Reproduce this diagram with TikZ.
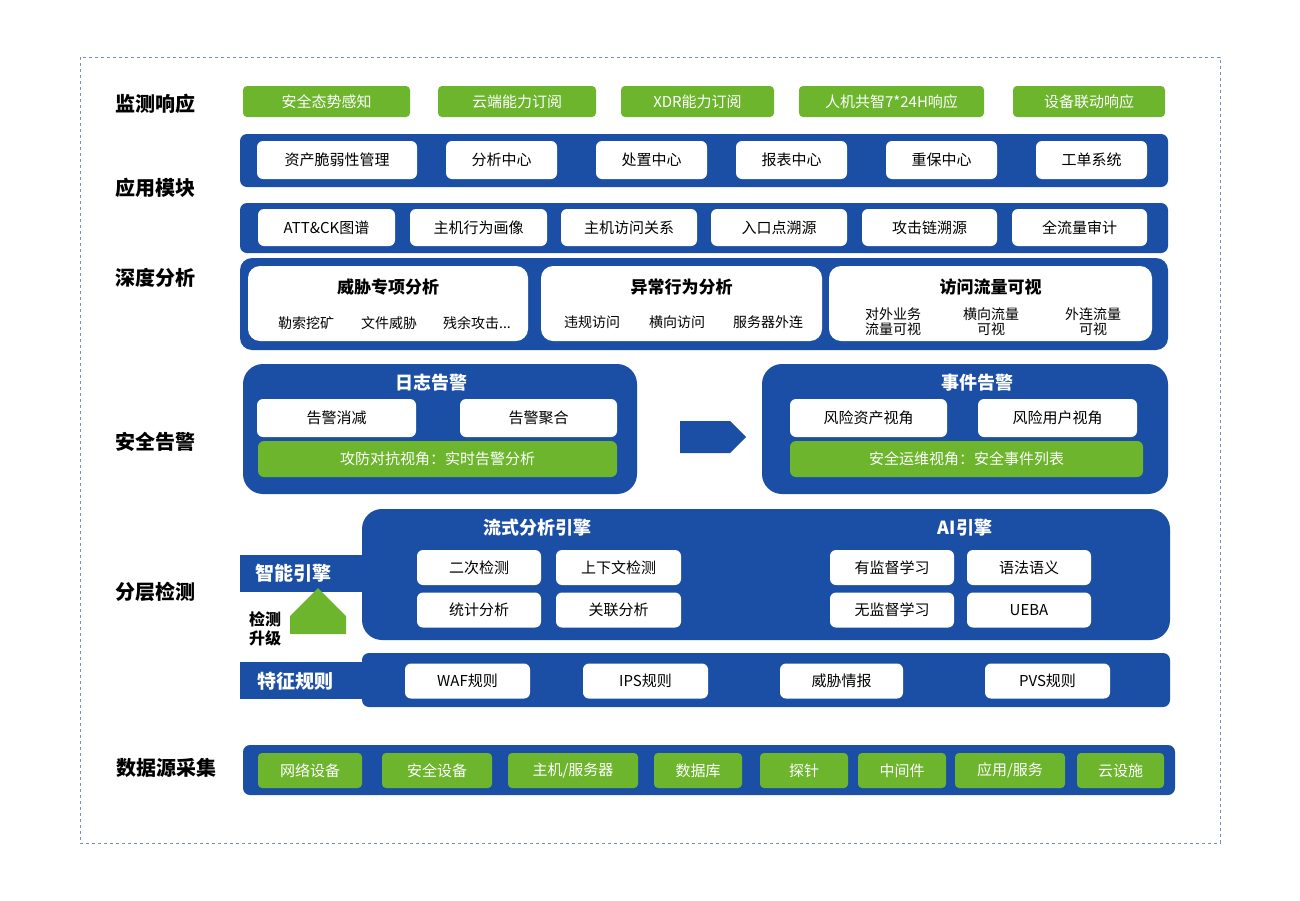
\documentclass[tikz,border=0pt]{standalone}
\usepackage{fontspec}
\setmainfont{Noto Sans CJK SC}
\usetikzlibrary{positioning,shapes.arrows}
\definecolor{bandblue}{HTML}{1B4FA6}
\definecolor{leafgreen}{HTML}{6DB52D}
\definecolor{framegray}{HTML}{7A8FB8}

\begin{document}
\begin{tikzpicture}[x=1pt,y=-1pt,
    band/.style={draw=none, fill=bandblue, rounded corners=7pt, inner sep=0pt},
    panel/.style={draw=none, fill=bandblue, rounded corners=20pt, inner sep=0pt},
    wbox/.style={fill=white, rounded corners=6pt, inner sep=0pt, font=\fontsize{15}{17}\selectfont},
    gbox/.style={fill=leafgreen, text=white, rounded corners=4pt, inner sep=0pt, font=\fontsize{15}{17}\selectfont},
    side/.style={font=\fontsize{20}{22}\selectfont\bfseries},
    head/.style={text=white, font=\fontsize{18}{20}\selectfont\bfseries},
    sub/.style={font=\fontsize{17}{19}\selectfont\bfseries},
    item/.style={font=\fontsize{14}{15}\selectfont, align=center}
]
\useasboundingbox (0,0) rectangle (1300,900);
\draw[framegray, dashed, line width=0.8pt] (80,57) rectangle (1220,843);

% left labels
\node[side] (l1) at (155,104) {监测响应};
\node[side] (l2) at (155,188) {应用模块};
\node[side] (l3) at (155,278) {深度分析};
\node[side] (l4) at (155,442) {安全告警};
\node[side] (l5) at (155,592) {分层检测};
\node[side] (l6) at (166,768) {数据源采集};

% monitoring response
\node[gbox, minimum width=167, minimum height=31] (m1) at (326.5,101.5) {安全态势感知};
\node[gbox, minimum width=158, minimum height=31] (m2) at (517,101.5) {云端能力订阅};
\node[gbox, minimum width=153, minimum height=31] (m3) at (697.5,101.5) {XDR能力订阅};
\node[gbox, minimum width=185, minimum height=31] (m4) at (891.5,101.5) {人机共智7*24H响应};
\node[gbox, minimum width=152, minimum height=31] (m5) at (1089,101.5) {设备联动响应};

% application modules
\node[band, minimum width=928, minimum height=53] (app) at (704,160.5) {};
\node[wbox, minimum width=160, minimum height=38] (a1) at (337,160) {资产脆弱性管理};
\node[wbox, minimum width=111, minimum height=38] (a2) at (501.5,160) {分析中心};
\node[wbox, minimum width=111, minimum height=38] (a3) at (651.5,160) {处置中心};
\node[wbox, minimum width=111, minimum height=38] (a4) at (791.5,160) {报表中心};
\node[wbox, minimum width=111, minimum height=38] (a5) at (941.5,160) {重保中心};
\node[wbox, minimum width=111, minimum height=38] (a6) at (1091.5,160) {工单系统};

% deep analysis
\node[band, minimum width=928, minimum height=50] (deep) at (704,228) {};
\node[wbox, minimum width=137, minimum height=37] (d1) at (326.5,227.5) {ATT\&CK图谱};
\node[wbox, minimum width=137, minimum height=37] (d2) at (478.5,227.5) {主机行为画像};
\node[wbox, minimum width=136, minimum height=37] (d3) at (629,227.5) {主机访问关系};
\node[wbox, minimum width=136, minimum height=37] (d4) at (779,227.5) {入口点溯源};
\node[wbox, minimum width=135, minimum height=37] (d5) at (929.5,227.5) {攻击链溯源};
\node[wbox, minimum width=135, minimum height=37] (d6) at (1079.5,227.5) {全流量审计};

\node[band, minimum width=928, minimum height=92, rounded corners=12pt] (topic) at (704,304) {};
\node[wbox, minimum width=280, minimum height=75, rounded corners=12pt] (t1) at (388,303.5) {};
\node[wbox, minimum width=281, minimum height=75, rounded corners=12pt] (t2) at (681.5,303.5) {};
\node[wbox, minimum width=323, minimum height=75, rounded corners=12pt] (t3) at (990.5,303.5) {};
\node[sub] (t1h) at (388,287) {威胁专项分析};
\node[sub] (t2h) at (681.5,287) {异常行为分析};
\node[sub] (t3h) at (990.5,287) {访问流量可视};
\node[item] (t11) at (306,323) {勒索挖矿};
\node[item] (t12) at (389,323) {文件威胁};
\node[item] (t13) at (477,323) {残余攻击...};
\node[item] (t21) at (592,322) {违规访问};
\node[item] (t22) at (677,322) {横向访问};
\node[item] (t23) at (768,322) {服务器外连};
\node[item, inner sep=0pt] (t31) at (893,322) {对外业务\\流量可视};
\node[item, inner sep=0pt] (t32) at (991,322) {横向流量\\可视};
\node[item, inner sep=0pt] (t33) at (1093,322) {外连流量\\可视};

% security alerts
\node[panel, minimum width=394, minimum height=130] (log) at (440,429) {};
\node[head] (logh) at (431,383) {日志告警};
\node[wbox, minimum width=159, minimum height=38] (g1) at (336.5,418) {告警消减};
\node[wbox, minimum width=157, minimum height=38] (g2) at (538.5,418) {告警聚合};
\node[gbox, minimum width=359, minimum height=36, rounded corners=6pt] (g3) at (437.5,459) {攻防对抗视角：实时告警分析};

\node[single arrow, fill=bandblue, minimum height=66, minimum width=32,
      single arrow head extend=0pt, shape border rotate=0, inner sep=0pt] (go) at (705,437) {};

\node[panel, minimum width=406, minimum height=130] (evt) at (965,429) {};
\node[head] (evth) at (977,383) {事件告警};
\node[wbox, minimum width=157, minimum height=38] (e1) at (868.5,418) {风险资产视角};
\node[wbox, minimum width=159, minimum height=38] (e2) at (1057.5,418) {风险用户视角};
\node[gbox, minimum width=353, minimum height=36, rounded corners=6pt] (e3) at (966.5,459) {安全运维视角：安全事件列表};

% layered detection
\node[panel, minimum width=808, minimum height=131] (eng) at (766,574.5) {};
\node[band, rounded corners=0pt, minimum width=124, minimum height=37] (ai) at (302,573.5) {};
\node[head, font=\fontsize{19}{21}\selectfont\bfseries] (aih) at (293,573.5) {智能引擎};
\node[head] (sh) at (537,528) {流式分析引擎};
\node[head] (ah) at (965,528) {AI引擎};
\node[wbox, minimum width=124, minimum height=35] (s1) at (479,567.5) {二次检测};
\node[wbox, minimum width=125, minimum height=35] (s2) at (618.5,567.5) {上下文检测};
\node[wbox, minimum width=124, minimum height=35] (s3) at (479,610) {统计分析};
\node[wbox, minimum width=125, minimum height=35] (s4) at (618.5,610) {关联分析};
\node[wbox, minimum width=124, minimum height=35] (i1) at (892,567.5) {有监督学习};
\node[wbox, minimum width=124, minimum height=35] (i2) at (1029,567.5) {语法语义};
\node[wbox, minimum width=124, minimum height=35] (i3) at (892,610) {无监督学习};
\node[wbox, minimum width=124, minimum height=35] (i4) at (1029,610) {UEBA};

\node[font=\fontsize{16}{19}\selectfont\bfseries, align=center, inner sep=0pt] (up) at (265,629) {检测\\升级};
\node[single arrow, fill=leafgreen, minimum height=46, minimum width=56,
      single arrow head extend=0pt, shape border rotate=90, inner sep=0pt,
      single arrow tip angle=90] (upa) at (318,625) {};

\node[band, minimum width=808, minimum height=54] (rule) at (766,680) {};
\node[band, rounded corners=0pt, minimum width=125, minimum height=37] (rt) at (302.5,680.5) {};
\node[head, font=\fontsize{19}{21}\selectfont\bfseries] (rth) at (295,681) {特征规则};
\node[wbox, minimum width=125, minimum height=35] (r1) at (467.5,681) {WAF规则};
\node[wbox, minimum width=125, minimum height=35] (r2) at (645.5,681) {IPS规则};
\node[wbox, minimum width=123, minimum height=35] (r3) at (841.5,681) {威胁情报};
\node[wbox, minimum width=125, minimum height=35] (r4) at (1047.5,681) {PVS规则};

% data sources
\node[band, minimum width=932, minimum height=50] (src) at (709,770) {};
\node[gbox, minimum width=104, minimum height=35] (c1) at (310,770.5) {网络设备};
\node[gbox, minimum width=110, minimum height=35] (c2) at (437,770.5) {安全设备};
\node[gbox, minimum width=130, minimum height=35] (c3) at (573,770.5) {主机/服务器};
\node[gbox, minimum width=88, minimum height=35] (c4) at (698,770.5) {数据库};
\node[gbox, minimum width=88, minimum height=35] (c5) at (804,770.5) {探针};
\node[gbox, minimum width=88, minimum height=35] (c6) at (902,770.5) {中间件};
\node[gbox, minimum width=110, minimum height=35] (c7) at (1010,770.5) {应用/服务};
\node[gbox, minimum width=87, minimum height=35] (c8) at (1120.5,770.5) {云设施};
\end{tikzpicture}
\end{document}
